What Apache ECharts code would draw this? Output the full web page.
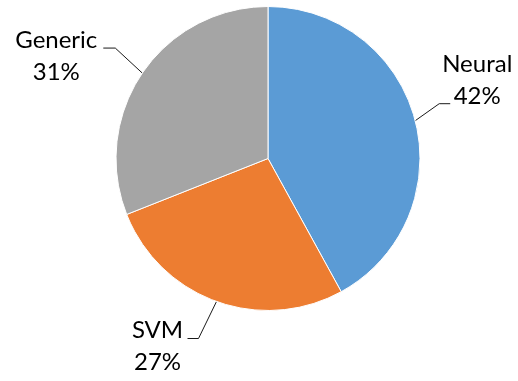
<!DOCTYPE html>
<html>
<head>
<meta charset="utf-8">
<script src="https://cdn.jsdelivr.net/npm/echarts@6/dist/echarts.min.js"></script>
<style>
  html, body { margin: 0; padding: 0; background: #ffffff; }
  #chart { width: 518px; height: 381px; }
</style>
</head>
<body>
<div id="chart"></div>
<script>
// Share of methods
const categories = ['Neural', 'SVM', 'Generic'];
const shares = [42, 27, 31];
const colors = ['#5B9BD5', '#ED7D31', '#A5A5A5'];

// Leader-line elbow / tail offsets and label offsets, per slice (pixels)
const leader = {
  Neural:  { elbow: [24, -17], tail: 11,  label: [27, -23] },
  SVM:     { elbow: [-18, 37], tail: -11, label: [-30, 8] },
  Generic: { elbow: [-27, -25], tail: -12, label: [-47, 8.5] }
};

const chart = echarts.init(document.getElementById('chart'), null, { renderer: 'canvas' });

chart.setOption({
  animation: false,
  backgroundColor: '#ffffff',
  series: [{
    type: 'pie',
    center: [268, 158.5],
    radius: 152,
    startAngle: 90,
    clockwise: true,
    data: categories.map((name, i) => ({
      name: name,
      value: shares[i],
      itemStyle: { color: colors[i] }
    })),
    itemStyle: { borderColor: '#ffffff', borderWidth: 1 },
    label: {
      show: true,
      position: 'outside',
      overflow: 'none',
      width: 120,
      formatter: p => '{t|' + p.name + '}\n{t|' + Math.round(p.percent) + '%}',
      rich: {
        t: {
          fontFamily: 'Lato',
          fontSize: 24,
          color: '#000000',
          lineHeight: 32,
          align: 'center'
        }
      }
    },
    labelLine: {
      show: true,
      length: 20,
      length2: 10,
      lineStyle: { color: '#1a1a1a', width: 1 }
    },
    labelLayout: function (params) {
      const name = categories[params.dataIndex];
      const cfg = leader[name];
      const p0 = params.labelLinePoints[0];
      const p1 = [p0[0] + cfg.elbow[0], p0[1] + cfg.elbow[1]];
      const p2 = [p1[0] + cfg.tail, p1[1]];
      return {
        x: p2[0] + cfg.label[0],
        y: p2[1] + cfg.label[1],
        align: 'center',
        verticalAlign: 'middle',
        labelLinePoints: [p0, p1, p2]
      };
    }
  }]
});
</script>
</body>
</html>
